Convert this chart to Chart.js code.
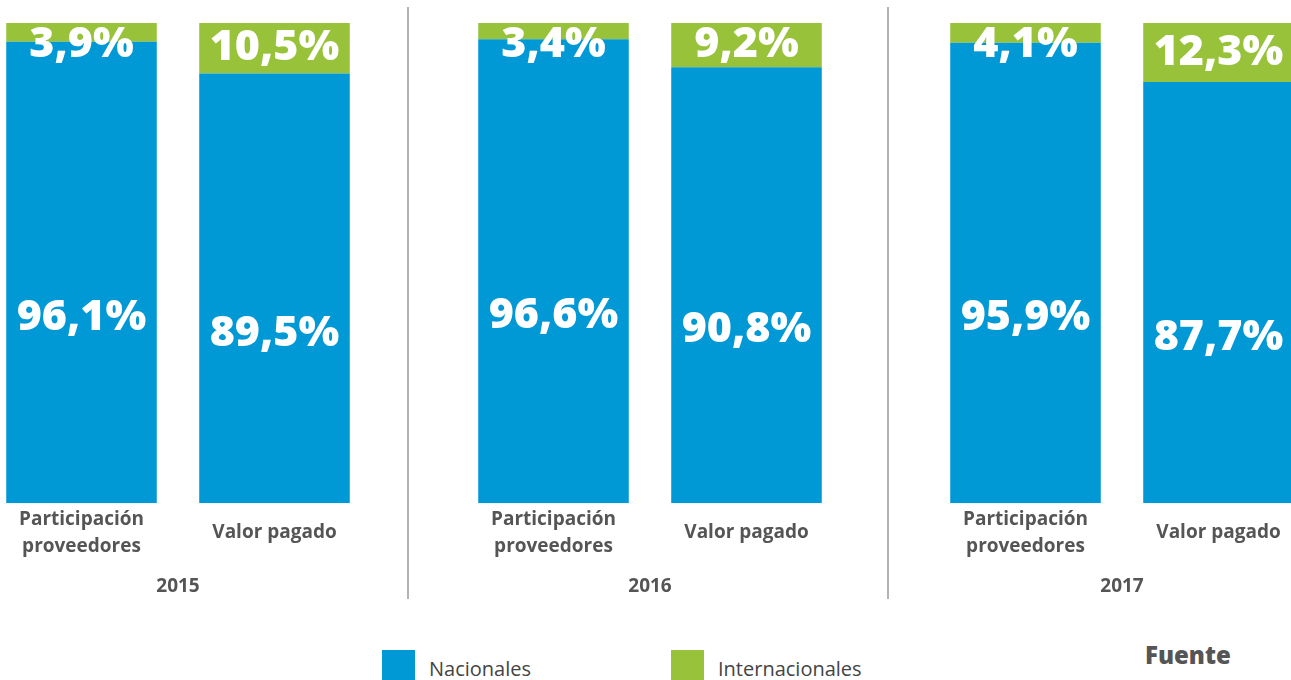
<!DOCTYPE html>
<html>
<head>
<meta charset="utf-8">
<script src="https://cdn.jsdelivr.net/npm/chart.js@4/dist/chart.umd.min.js"></script>
<style>
    body { margin: 0; background: #fff; font-family: 'Open Sans', sans-serif; }
    #wrap { position: relative; width: 1291px; height: 680px; overflow: hidden; }
    .group { position: absolute; top: 0; width: 480px; height: 611px; }
    .sep { position: absolute; top: 7px; width: 0; height: 592px; border-left: 2px solid #b3b3b3; }
    .legend { position: absolute; top: 650px; font-size: 20px; color: #444; }
    .legend span { position: absolute; top: 0; width: 33px; height: 33px; }
    .legend b { position: absolute; top: 5px; font-weight: normal; white-space: nowrap; }
    #fuente { position: absolute; left: 1145px; top: 638px; font-size: 24px; font-weight: 800; color: #555; }
</style>
</head>
<body>
<div id="wrap">
    <div class="group" style="left:-63px"><canvas id="chart2015"></canvas></div>
    <div class="group" style="left:409px"><canvas id="chart2016"></canvas></div>
    <div class="group" style="left:881px"><canvas id="chart2017"></canvas></div>
    <div class="sep" style="left:407px"></div>
    <div class="sep" style="left:887px"></div>
    <div class="legend" style="left:382px"><span style="background:#0098d5"></span><b style="left:47px">Nacionales</b></div>
    <div class="legend" style="left:671px"><span style="background:#98c23a"></span><b style="left:47px">Internacionales</b></div>
    <div id="fuente">Fuente</div>
</div>
<script>
// Data
const years = ['2015', '2016', '2017'];
const categories = [['Participación', 'proveedores'], 'Valor pagado'];
const nacionales = [96.1, 89.5, 96.6, 90.8, 95.9, 87.7];
const internacionales = [3.9, 10.5, 3.4, 9.2, 4.1, 12.3];

const blue = '#0098d5';
const green = '#98c23a';
const fontFamily = "'Open Sans', sans-serif";

// Draw the percentage labels inside the bars
const barLabels = {
    id: 'barLabels',
    afterDatasetsDraw(chart) {
        const ctx = chart.ctx;
        ctx.save();
        ctx.fillStyle = '#fff';
        ctx.font = `800 43px ${fontFamily}`;
        ctx.textAlign = 'center';
        ctx.textBaseline = 'middle';
        chart.data.datasets.forEach((ds, i) => {
            chart.getDatasetMeta(i).data.forEach((bar, j) => {
                const text = ds.data[j].toFixed(1).replace('.', ',') + '%';
                const mid = (bar.y + bar.base) / 2;
                let y;
                if (i === 0) {
                    y = mid + 45; // nacionales sit a bit low
                } else {
                    y = Math.max(mid, bar.y + 22);
                }
                ctx.fillText(text, bar.x, y);
            });
        });
        ctx.restore();
    }
};

function renderYear(year, index) {
    const ctx = document.getElementById('chart' + year).getContext('2d');
    const from = index * 2;
    new Chart(ctx, {
        type: 'bar',
        data: {
            labels: categories,
            datasets: [{
                label: 'Nacionales',
                data: nacionales.slice(from, from + 2),
                backgroundColor: blue
            }, {
                label: 'Internacionales',
                data: internacionales.slice(from, from + 2),
                backgroundColor: green
            }]
        },
        options: {
            responsive: true,
            maintainAspectRatio: false,
            animation: false,
            layout: { padding: { top: 23, left: 48, right: 46 } },
            datasets: { bar: { barPercentage: 0.78, categoryPercentage: 1 } },
            plugins: {
                legend: { display: false },
                tooltip: { enabled: false }
            },
            scales: {
                x: {
                    stacked: true,
                    grid: { display: false, drawTicks: false },
                    border: { display: false },
                    ticks: {
                        padding: 16,
                        crossAlign: 'center',
                        color: '#555',
                        font: { family: fontFamily, size: 19, weight: 'bold', lineHeight: 1.42 }
                    },
                    title: {
                        display: true,
                        text: year,
                        color: '#555',
                        padding: { top: -13, bottom: 14 },
                        font: { family: fontFamily, size: 19, weight: 'bold', lineHeight: 1.1 }
                    }
                },
                y: {
                    stacked: true,
                    display: false,
                    min: 0,
                    max: 100
                }
            }
        },
        plugins: [barLabels]
    });
}

years.forEach(renderYear);
</script>
</body>
</html>
